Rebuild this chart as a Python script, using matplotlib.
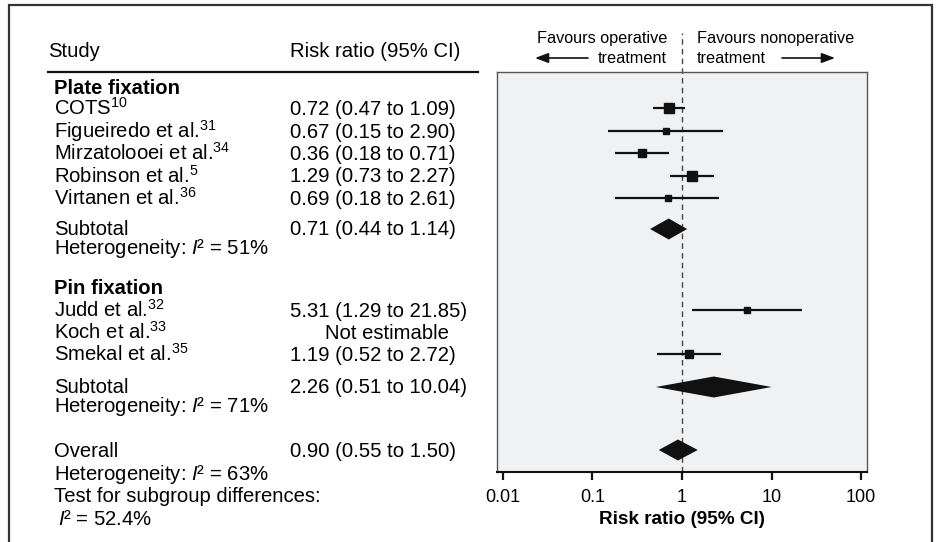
"""Forest plot: operative vs nonoperative treatment, risk ratios by fixation type."""
import numpy as np
import matplotlib.pyplot as plt
from matplotlib.patches import Polygon, Rectangle

plt.rcParams['font.family'] = ['Liberation Sans', 'DejaVu Sans']
plt.rcParams['mathtext.fontset'] = 'custom'
plt.rcParams['mathtext.rm'] = 'Liberation Sans'
plt.rcParams['mathtext.it'] = 'Liberation Sans:italic'
plt.rcParams['mathtext.bf'] = 'Liberation Sans:bold'

# --- data -------------------------------------------------------------------
plate_names = ['COTS', 'Figueiredo et al.', 'Mirzatolooei et al.',
               'Robinson et al.', 'Virtanen et al.']
plate_refs = ['10', '31', '34', '5', '36']
plate_rr = [0.72, 0.67, 0.36, 1.29, 0.69]
plate_lo = [0.47, 0.15, 0.18, 0.73, 0.18]
plate_hi = [1.09, 2.90, 0.71, 2.27, 2.61]
plate_wt = [24, 9, 20, 26, 10]          # approx. study weights (%)

pin_names = ['Judd et al.', 'Koch et al.', 'Smekal et al.']
pin_refs = ['32', '33', '35']
pin_rr = [5.31, None, 1.19]
pin_lo = [1.29, None, 0.52]
pin_hi = [21.85, None, 2.72]
pin_wt = [9, 0, 17]

plate_sub = (0.71, 0.44, 1.14)
pin_sub = (2.26, 0.51, 10.04)
overall = (0.90, 0.55, 1.50)
plate_i2 = '51%'
pin_i2 = '71%'
overall_i2 = '63%'
subgroup_i2 = '52.4%'

xticks = [0.01, 0.1, 1, 10, 100]
xtick_labels = ['0.01', '0.1', '1', '10', '100']

FS = 14.6       # table text
FS_HEAD = 11.7  # "Favours ..." header
FS_TICK = 13.0
FS_XLAB = 13.6
W, H = 936, 542


def fx(px):
    return px / W


def fy(py):
    return 1 - py / H


def fmt(rr, lo, hi):
    return f'{rr:.2f} ({lo:.2f} to {hi:.2f})'


def left_text(fig, y, s, x=54, **kw):
    fig.text(fx(x), fy(y + 7), s, fontsize=FS, va='baseline', ha='left', **kw)


def study_row(fig, ax, y, name, ref, rr, lo, hi, wt):
    left_text(fig, y, f'{name}$^{{{ref}}}$')
    if rr is None:
        left_text(fig, y, 'Not estimable', x=325)
        return
    left_text(fig, y, fmt(rr, lo, hi), x=290)
    ax.plot([lo, hi], [y, y], color='#111111', lw=1.6, solid_capstyle='butt')
    ms = 0.72 * (4.7 + 0.18 * wt)
    ax.plot([rr], [y], marker='s', ms=ms, color='#111111', mec='#111111', ls='none')


def diamond(ax, y, est, half=10.5):
    rr, lo, hi = est
    ax.add_patch(Polygon([[lo, y], [rr, y - half], [hi, y], [rr, y + half]],
                         closed=True, color='#111111', lw=0))


def summary_block(fig, ax, y, label, est, i2):
    left_text(fig, y - 1, label)
    left_text(fig, y - 1, fmt(*est), x=290)
    diamond(ax, y, est)
    left_text(fig, y + 18.5, f'Heterogeneity: $I$² = {i2}')


def main() -> None:
    fig = plt.figure(figsize=(W / 100, H / 100), dpi=100)

    # outer frame (open at the bottom)
    fig.add_artist(Rectangle((fx(9), fy(560)), fx(932 - 9), (560 - 5) / H,
                             transform=fig.transFigure, fill=False,
                             edgecolor='#333333', lw=1.6))

    ax = fig.add_axes([fx(497), fy(472), fx(867 - 497), (472 - 72) / H])
    ax.set_facecolor('#f0f1f3')
    ax.set_xscale('log')
    ax.set_xlim(10 ** -2.067, 10 ** 2.067)
    ax.set_ylim(472, 72)
    ax.set_yticks([])
    for side in ['top', 'left', 'right']:
        ax.spines[side].set_color('#555555')
        ax.spines[side].set_linewidth(1.0)
    ax.spines['bottom'].set_color('#111111')
    ax.spines['bottom'].set_linewidth(1.5)
    ax.set_xticks(xticks)
    ax.set_xticklabels(xtick_labels)
    ax.xaxis.set_minor_locator(plt.NullLocator())
    ax.tick_params(axis='x', length=6, width=1.6, labelsize=FS_TICK, pad=6,
                   color='#111111')
    ax.set_xlabel('Risk ratio (95% CI)', fontsize=FS_XLAB, fontweight='bold',
                  labelpad=4)

    # line of no effect, extending up into the header
    ax.plot([1, 1], [472, 33], color='#444444', lw=1.0, ls=(0, (4, 3)),
            clip_on=False, zorder=1)

    # header
    left_text(fig, 50, 'Study', x=48)
    left_text(fig, 50, 'Risk ratio (95% CI)', x=290)
    fig.add_artist(plt.Line2D([fx(48), fx(478)], [fy(72), fy(72)],
                              color='#111111', lw=1.6))

    fig.text(fx(667), fy(43), 'Favours operative', fontsize=FS_HEAD,
             ha='right', va='baseline')
    fig.text(fx(667), fy(63), 'treatment', fontsize=FS_HEAD, ha='right', va='baseline')
    fig.text(fx(697), fy(43), 'Favours nonoperative', fontsize=FS_HEAD,
             ha='left', va='baseline')
    fig.text(fx(697), fy(63), 'treatment', fontsize=FS_HEAD, ha='left', va='baseline')
    arrow = dict(arrowstyle='-|>,head_length=0.8,head_width=0.3',
                 color='#111111', lw=1.2, shrinkA=0, shrinkB=0)
    fig.add_artist(plt.Annotation('', xy=(fx(535), fy(58)), xytext=(fx(588), fy(58)),
                                  xycoords='figure fraction', arrowprops=arrow))
    fig.add_artist(plt.Annotation('', xy=(fx(835), fy(58)), xytext=(fx(782), fy(58)),
                                  xycoords='figure fraction', arrowprops=arrow))

    # plate fixation
    left_text(fig, 87, 'Plate fixation', fontweight='bold')
    y = 108
    for i in range(len(plate_names)):
        study_row(fig, ax, y, plate_names[i], plate_refs[i], plate_rr[i],
                  plate_lo[i], plate_hi[i], plate_wt[i])
        y += 22.5
    summary_block(fig, ax, 229, 'Subtotal', plate_sub, plate_i2)

    # pin fixation
    left_text(fig, 287, 'Pin fixation', fontweight='bold')
    y = 310
    for i in range(len(pin_names)):
        study_row(fig, ax, y, pin_names[i], pin_refs[i], pin_rr[i],
                  pin_lo[i], pin_hi[i], pin_wt[i])
        y += 22
    summary_block(fig, ax, 387, 'Subtotal', pin_sub, pin_i2)

    # overall
    y = 450
    left_text(fig, y, 'Overall')
    left_text(fig, y, fmt(*overall), x=290)
    diamond(ax, y, overall)
    left_text(fig, y + 23, f'Heterogeneity: $I$² = {overall_i2}')
    left_text(fig, y + 45, 'Test for subgroup differences:')
    left_text(fig, y + 68, f'$I$² = {subgroup_i2}', x=58)

    fig.savefig('out.png', dpi=100)


if __name__ == '__main__':
    main()
